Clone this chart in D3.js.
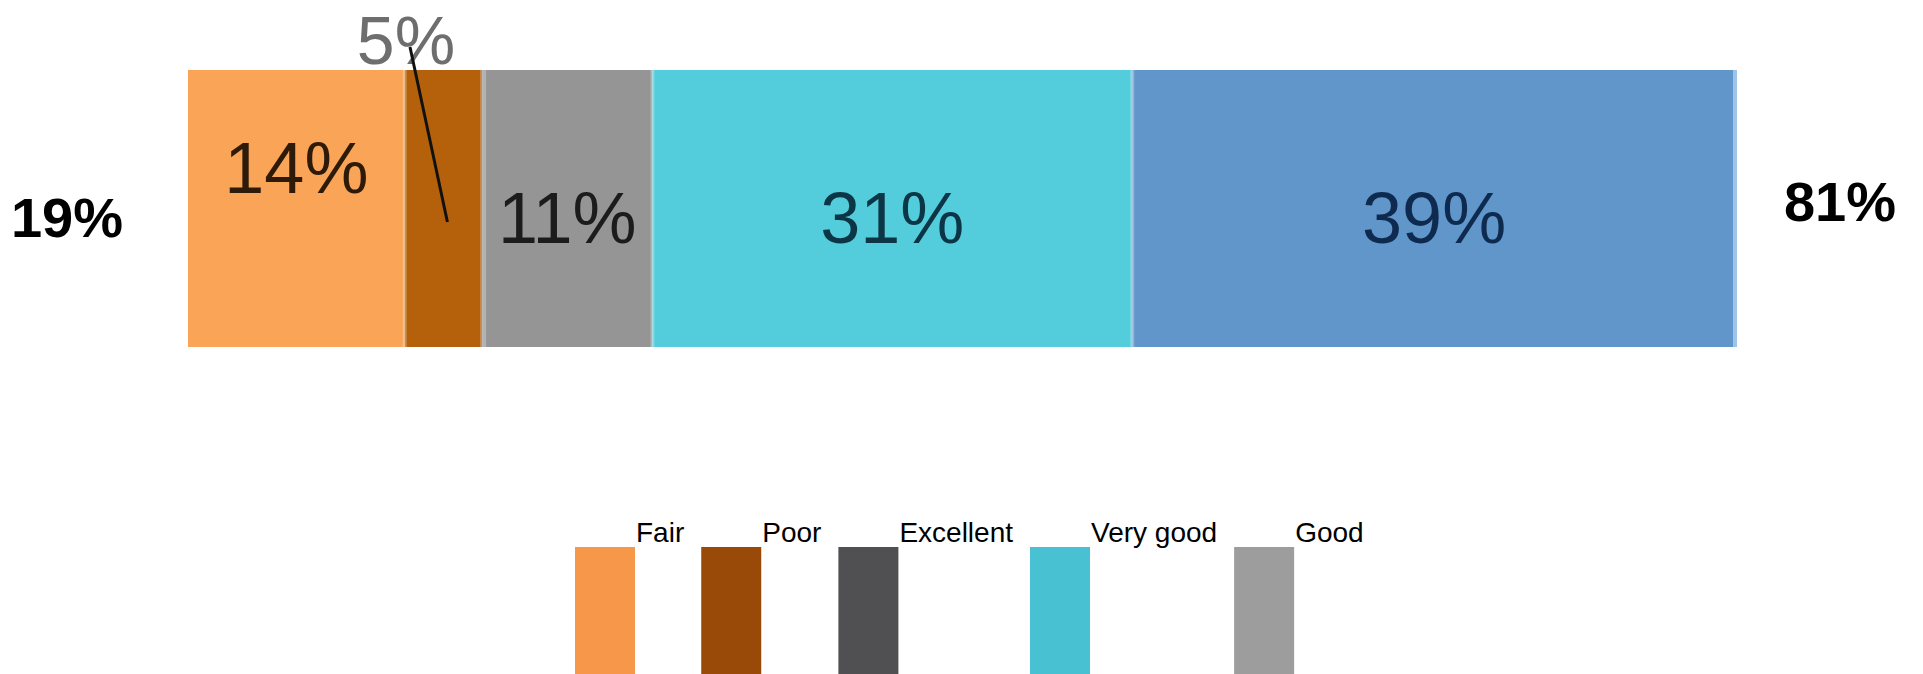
<!DOCTYPE html>
<html>
<head>
<meta charset="utf-8">
<script src="https://cdn.jsdelivr.net/npm/d3@7"></script>
<style>
  html, body { margin: 0; padding: 0; background: #fff; }
  svg { display: block; font-family: "Liberation Sans", Arial, sans-serif; }
</style>
</head>
<body>
<svg id="chart" width="1923" height="674"></svg>
<script>
// ---- data ----
const segments = ["Fair", "Poor", "Good", "Very good", "Excellent"];
const segmentValues = [14, 5, 11, 31, 39];
const segmentLabels = ["14%", "5%", "11%", "31%", "39%"];
const leftTotalLabel = "19%";
const rightTotalLabel = "81%";
const legendCategories = ["Fair", "Poor", "Excellent", "Very good", "Good"];

// ---- styles ----
const barColors = ["#FAA457", "#B5610B", "#959595", "#53CDDC", "#6196CB"];
const barTextColors = ["#2e1a08", "#6e6e6e", "#1c1c1c", "#0c3545", "#0e2a4e"];
const legendColors = ["#F7974A", "#9A4A08", "#505052", "#48C2D3", "#9D9D9D"];

const svg = d3.select("#chart");
const W = 1923, H = 674;

const x = d3.scaleLinear().domain([0, d3.sum(segmentValues)]).range([188, 1736]);
const y = d3.scaleLinear().domain([0, 1]).range([70, 347]);

const stack = [];
let acc = 0;
segmentValues.forEach((v, i) => { stack.push({ name: segments[i], v, x0: acc, x1: acc + v, i }); acc += v; });

const g = svg.append("g");
g.selectAll("rect.seg").data(stack).join("rect")
  .attr("class", "seg")
  .attr("x", d => x(d.x0))
  .attr("width", d => x(d.x1) - x(d.x0))
  .attr("y", y(0))
  .attr("height", y(1) - y(0))
  .attr("fill", d => barColors[d.i]);

// light seams between segments
g.selectAll("rect.seam").data(stack.slice(1)).join("rect")
  .attr("class", "seam")
  .attr("x", d => x(d.x0) - 2)
  .attr("width", d => d.i === 2 ? 6 : 4)
  .attr("y", y(0))
  .attr("height", y(1) - y(0))
  .attr("fill", "#fff")
  .attr("opacity", 0.28);
// right edge highlight
g.append("rect")
  .attr("x", x(d3.sum(segmentValues)) - 3)
  .attr("width", 4)
  .attr("y", y(0))
  .attr("height", y(1) - y(0))
  .attr("fill", "#9EC4EA");

// segment labels
const labelY = [193, 64, 243, 243, 243];
g.selectAll("text.seglab").data(stack).join("text")
  .attr("class", "seglab")
  .attr("x", d => d.i === 1 ? 406 : (x(d.x0) + x(d.x1)) / 2)
  .attr("y", d => labelY[d.i])
  .attr("text-anchor", "middle")
  .attr("font-size", d => d.i === 1 ? 68 : 72)
  .attr("fill", d => barTextColors[d.i])
  .text(d => segmentLabels[d.i]);

// leader line for the small segment
const poor = stack[1];
g.append("line")
  .attr("x1", 410).attr("y1", 47)
  .attr("x2", (x(poor.x0) + x(poor.x1)) / 2 + 4).attr("y2", 222)
  .attr("stroke", "#111").attr("stroke-width", 3);

// totals
svg.append("text").attr("x", 67).attr("y", 237).attr("text-anchor", "middle")
  .attr("font-size", 56).attr("font-weight", "bold").attr("fill", "#000").text(leftTotalLabel);
svg.append("text").attr("x", 1840).attr("y", 221).attr("text-anchor", "middle")
  .attr("font-size", 56).attr("font-weight", "bold").attr("fill", "#000").text(rightTotalLabel);

// legend (flow layout)
const legend = svg.append("g");
const boxW = 60, boxTop = 547, gap = 17;
let lx = 575;
legendCategories.forEach((c, i) => {
  legend.append("rect").attr("x", lx).attr("y", boxTop).attr("width", boxW).attr("height", H - boxTop + 5)
    .attr("fill", legendColors[i]);
  const t = legend.append("text").attr("x", lx + boxW + 1).attr("y", boxTop - 5)
    .attr("font-size", 28).attr("fill", "#000").text(c);
  const tw = t.node().getComputedTextLength();
  lx = lx + boxW + 1 + tw + gap;
});
</script>
</body>
</html>
